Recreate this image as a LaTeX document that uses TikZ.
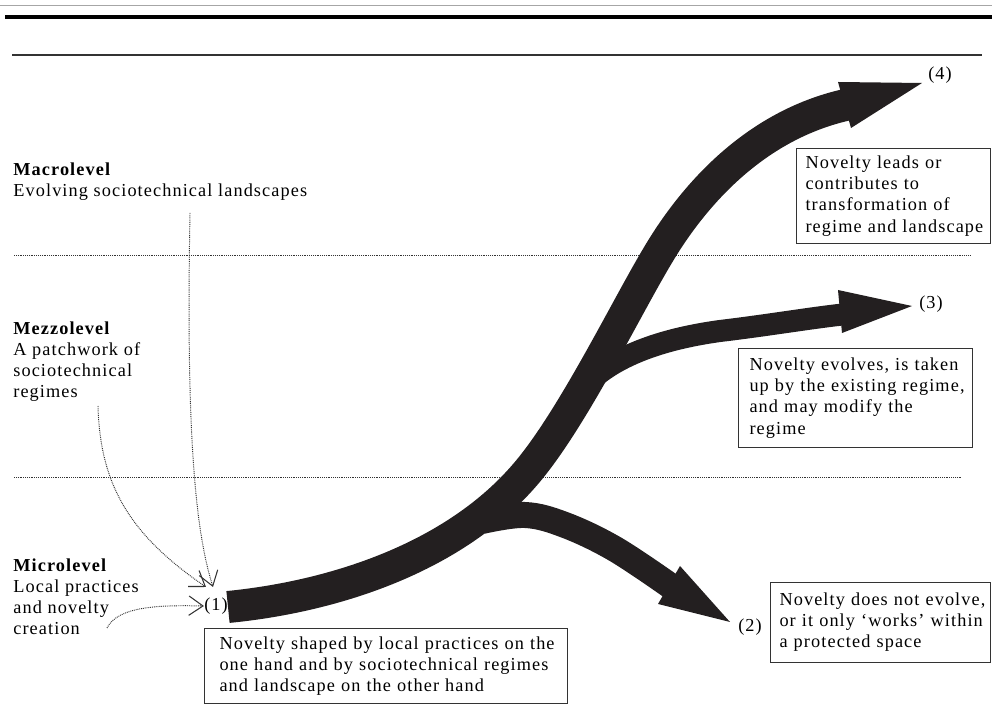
\documentclass[tikz,border=0pt]{standalone}
\usepackage{fontspec}
\setmainfont{Liberation Serif}[LetterSpace=6]
\usetikzlibrary{arrows.meta}
\definecolor{ink}{RGB}{35,31,32}
\newcommand\fs{\fontsize{10.4}{12}\selectfont}
\begin{document}
\begin{tikzpicture}[x=0.02cm,y=-0.02cm,
  txt/.style={inner sep=0pt, align=left, anchor=north west, font=\fs},
  box/.style={draw=black!80, line width=0.6pt, anchor=north west, align=left, font=\fs, inner ysep=0pt},
  num/.style={inner sep=0pt, font=\fs},
  dotln/.style={line width=0.55pt, dash pattern=on 0.5pt off 0.55pt, black!80},
  dotarr/.style={dotln, -{Straight Barb[length=8pt,width=11pt,line width=0.6pt]}},
  band/.style={draw=ink, line cap=butt},
  head/.style={fill=ink}]
\useasboundingbox (0,0) rectangle (992,722);
% top rules
\draw[black!35, line width=0.5pt] (0,5) -- (992,5);
\draw[black, line width=1.8pt] (5,17) -- (992,17);
\draw[black!80, line width=0.7pt] (12,55) -- (982,55);
% level separators
\draw[dotln] (14,255) -- (970,255);
\draw[dotln] (14,477) -- (962,477);
% level texts
\node[txt] (macro) at (13,162) {\textbf{Macrolevel}\\Evolving sociotechnical landscapes};
\node[txt] (mezzo) at (13,321) {\textbf{Mezzolevel}\\A patchwork of\\sociotechnical\\regimes};
\node[txt] (micro) at (13,558) {\textbf{Microlevel}\\Local practices\\and novelty\\creation};
% numbers
\node[num] (n1) at (216,606) {(1)};
\node[num] (n2) at (750,627) {(2)};
\node[num] (n3) at (931,304) {(3)};
\node[num] (n4) at (940,75) {(4)};
% dotted connectors
\coordinate (ma) at (190,213);
\coordinate (mz) at (98,406);
\coordinate (mi) at (107,628);
\coordinate (e1) at (213,587);
\coordinate (e2) at (206,587);
\draw[dotarr] (ma) .. controls (186,430) and (195,530) .. (e1);
\draw[dotarr] (mz) .. controls (100,485) and (130,535) .. (e2);
\draw[dotarr] (mi) .. controls (118,606) and (160,605) .. (n1.west);
% branch (2)
\draw[band, line width=0.52cm] plot[smooth, tension=0.6] coordinates {(482,521) (525,515) (565,525) (615,549) (672,587)};
\coordinate (t2) at (730,622);
\fill[head] (680,566) -- (t2) -- (658,604) -- cycle;
% branch (3)
\draw[band, line width=0.44cm] (572,403) .. controls (593,368) and (640,342) .. (720,331)
  .. controls (770,325) and (810,318) .. (847,314);
\coordinate (t3) at (912,306);
\fill[head] (838,290) -- (t3) -- (842,333) -- cycle;
% trunk (4)
\draw[band, line width=0.64cm] (228,607) .. controls (330,597) and (450,560) .. (523,477)
  .. controls (570,424) and (625,310) .. (658,255)
  .. controls (693,196) and (755,124) .. (850,104);
\coordinate (t4) at (922,83);
\fill[head] (838,82) -- (t4) -- (851,128) -- cycle;
% boxes
\node[box, inner xsep=0.3cm, text width=6.66cm, minimum height=1.5cm] (b1) at (204,628)
  {\mbox{Novelty shaped by local practices on the}\\\mbox{one hand and by sociotechnical regimes}\\and landscape on the other hand};
\node[box, inner xsep=0.18cm, text width=4.04cm, minimum height=1.6cm] (b2) at (770,582)
  {\mbox{Novelty does not evolve,}\\\mbox{or it only `works' within}\\a protected space};
\node[box, inner xsep=0.22cm, text width=4.24cm, minimum height=1.98cm] (b3) at (738,348)
  {\mbox{Novelty evolves, is taken}\\\mbox{up by the existing regime,}\\and may modify the\\regime};
\node[box, inner xsep=0.18cm, text width=3.52cm, minimum height=1.9cm] (b4) at (796,148)
  {Novelty leads or\\contributes to\\transformation of\\\mbox{regime and landscape}};
\end{tikzpicture}
\end{document}
